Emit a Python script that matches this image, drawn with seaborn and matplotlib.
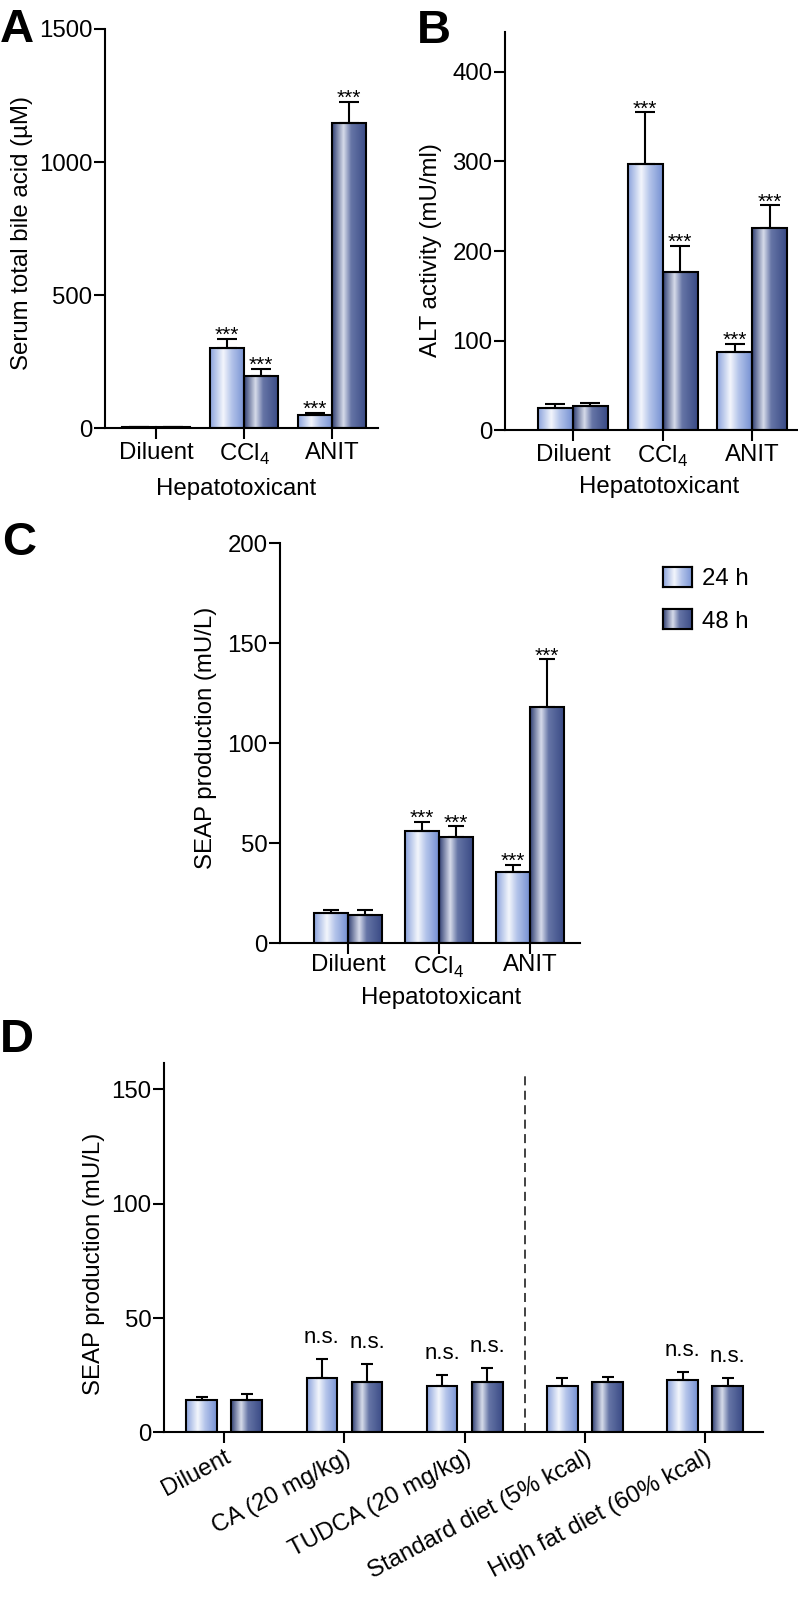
import matplotlib
matplotlib.use("Agg")
import numpy as np
import pandas as pd
import seaborn as sns
import matplotlib.pyplot as plt
from matplotlib.colors import LinearSegmentedColormap
from matplotlib.patches import Patch

times = ["24 h", "48 h"]
toxicants = ["Diluent", r"CCl$_\mathregular{4}$", "ANIT"]
stars = ["", "***", "***"]

# A: serum total bile acid (uM), mean and upper error
bile_24 = [5, 302, 49]
bile_24_err = [1, 35, 10]
bile_48 = [4, 197, 1148]
bile_48_err = [1, 25, 79]

# B: ALT activity (mU/ml)
alt_24 = [25, 297, 87]
alt_24_err = [4, 58, 9]
alt_48 = [27, 176, 226]
alt_48_err = [3, 30, 25]

# C: SEAP production (mU/L), hepatotoxicants
seap_24 = [15.3, 56.0, 35.7]
seap_24_err = [1.4, 4.8, 3.6]
seap_48 = [14.2, 53.2, 118.2]
seap_48_err = [2.5, 5.3, 23.8]

# D: SEAP production (mU/L), bile acids and diets
treatments = ["Diluent", "CA (20 mg/kg)", "TUDCA (20 mg/kg)",
              "Standard diet (5% kcal)", "High fat diet (60% kcal)"]
treat_24 = [14.0, 24.0, 20.1, 20.1, 23.1]
treat_24_err = [1.6, 8.0, 5.0, 3.5, 3.2]
treat_48 = [14.0, 22.0, 22.0, 22.0, 20.1]
treat_48_err = [2.8, 7.7, 6.2, 2.1, 3.5]
ns_marks = ["", "n.s.", "n.s.", "", "n.s."]

sns.set_style("ticks", {"axes.edgecolor": "black", "xtick.color": "black",
                        "ytick.color": "black", "text.color": "black",
                        "axes.labelcolor": "black"})
plt.rcParams["font.family"] = ["Liberation Sans", "DejaVu Sans"]
plt.rcParams["mathtext.fontset"] = "custom"
plt.rcParams["mathtext.rm"] = "Liberation Sans"
FS = 17.3

light = LinearSegmentedColormap.from_list(
    "light", [(0, "#8aa2dc"), (0.38, "#f3f6fc"), (0.62, "#b4c4ea"), (1, "#7590d2")])
dark = LinearSegmentedColormap.from_list(
    "dark", [(0, "#2f3e72"), (0.33, "#d6dbea"), (0.55, "#6675a6"), (1, "#394a85")])
ramp = np.linspace(0, 1, 256).reshape(1, -1)


def bars(ax, cats, v24, e24, v48, e48, marks, width, gap, cap, markfs, mark_off, va):
    df = pd.DataFrame({"cat": cats * 2,
                       "time": [times[0]] * len(cats) + [times[1]] * len(cats),
                       "value": v24 + v48})
    sns.barplot(data=df, x="cat", y="value", hue="time", order=cats, hue_order=times,
                width=width, gap=gap, errorbar=None, palette=["#a9bbe6", "#4a5a90"],
                legend=False, ax=ax)
    for cont, errs, cmap in zip(ax.containers, [e24, e48], [light, dark]):
        for bar, err, mark in zip(cont, errs, marks):
            x, w, h = bar.get_x(), bar.get_width(), bar.get_height()
            ax.imshow(ramp, cmap=cmap, extent=[x, x + w, 0, h], aspect="auto",
                      interpolation="bilinear", zorder=1)
            bar.set_facecolor("none")
            bar.set_edgecolor("black")
            bar.set_linewidth(1.5)
            bar.set_zorder(2)
            ax.errorbar(x + w / 2, h, yerr=[[0], [err]], color="black", lw=1.5,
                        capsize=cap, capthick=1.5, zorder=1.5)
            if mark:
                ax.annotate(mark, (x + w / 2, h + err), xytext=(0, mark_off),
                            textcoords="offset points", ha="center", va=va,
                            fontsize=markfs)


def style(ax, xlim, ylim, yticks, ylabel, ylab_xy, xlabel=None, xlab_xy=None, xpad=2):
    ax.set_xlim(xlim)
    ax.set_ylim(ylim)
    ax.set_yticks(yticks)
    sns.despine(ax=ax)
    for s in ["left", "bottom"]:
        ax.spines[s].set_linewidth(1.5)
    ax.tick_params(length=8, width=1.5, labelsize=FS)
    ax.tick_params(axis="y", pad=1)
    ax.tick_params(axis="x", pad=xpad)
    ax.set_ylabel(ylabel, fontsize=FS)
    ax.yaxis.set_label_coords(*ylab_xy)
    if xlabel:
        ax.set_xlabel(xlabel, fontsize=FS)
        ax.xaxis.set_label_coords(*xlab_xy)
    else:
        ax.set_xlabel("")


fig = plt.figure(figsize=(7.98, 16.01), dpi=100)

axA = fig.add_axes([0.1316, 0.7325, 0.3421, 0.2494])
bars(axA, toxicants, bile_24, bile_24_err, bile_48, bile_48_err, stars,
     0.773, 0, 7, 15, -1.5, "baseline")
style(axA, (-0.58, 2.52), (0, 1500), [0, 500, 1000, 1500],
      "Serum total bile acid (µM)", (-0.264, 0.49), "Hepatotoxicant", (0.48, -0.1235))

axB = fig.add_axes([0.6328, 0.7314, 0.3672, 0.2488])
bars(axB, toxicants, alt_24, alt_24_err, alt_48, alt_48_err, stars,
     0.78, 0, 7, 15, -1.5, "baseline")
style(axB, (-0.758, 2.51), (0, 445), [0, 100, 200, 300, 400],
      "ALT activity (mU/ml)", (-0.215, 0.452), "Hepatotoxicant", (0.526, -0.1145))

axC = fig.add_axes([0.351, 0.4108, 0.3761, 0.2498])
bars(axC, toxicants, seap_24, seap_24_err, seap_48, seap_48_err, stars,
     0.744, 0, 5.5, 15, -1.5, "baseline")
style(axC, (-0.745, 2.55), (0, 200), [0, 50, 100, 150, 200],
      "SEAP production (mU/L)", (-0.21, 0.514), "Hepatotoxicant", (0.5355, -0.11), xpad=0)

axD = fig.add_axes([0.2055, 0.1053, 0.7506, 0.2306])
bars(axD, treatments, treat_24, treat_24_err, treat_48, treat_48_err, ns_marks,
     0.75, 0.32, 4, 16, 8, "bottom")
style(axD, (-0.5, 4.48), (0, 161.4), [0, 50, 100, 150],
      "SEAP production (mU/L)", (-0.0985, 0.456))
axD.axvline(2.5, ymin=0, ymax=156.4 / 161.4, color="#333333", lw=1.3,
            linestyle=(0, (5, 3)), zorder=0.5)
for lab in axD.get_xticklabels():
    lab.set_rotation(28)
    lab.set_ha("right")
    lab.set_va("top")
    lab.set_rotation_mode("anchor")

handles = [Patch(facecolor="none", edgecolor="black", linewidth=1.5, label=t) for t in times]
leg = axC.legend(handles=handles, loc="upper left", bbox_to_anchor=(1.277, 0.942),
                 frameon=False, fontsize=FS, handlelength=1.21, handleheight=0.92,
                 handletextpad=0.4, labelspacing=0.8, borderpad=0, borderaxespad=0)

for letter, x, y in [("A", 0.0, 0.9738), ("B", 0.5226, 0.9731),
                     ("C", 0.0025, 0.6533), ("D", 0.0, 0.3429)]:
    fig.text(x, y, letter, fontsize=34, fontweight="bold", va="baseline", ha="left")

# gradient fill for the legend keys
fig.canvas.draw()
inv = fig.transFigure.inverted()
for h, cmap in zip(leg.legend_handles, [light, dark]):
    bb = h.get_window_extent().transformed(inv)
    lax = fig.add_axes([bb.x0, bb.y0, bb.width, bb.height])
    lax.imshow(ramp, cmap=cmap, aspect="auto", interpolation="bilinear")
    lax.set_xticks([])
    lax.set_yticks([])
    for s in lax.spines.values():
        s.set_linewidth(1.5)
        s.set_color("black")

fig.savefig("out.png", dpi=100)
